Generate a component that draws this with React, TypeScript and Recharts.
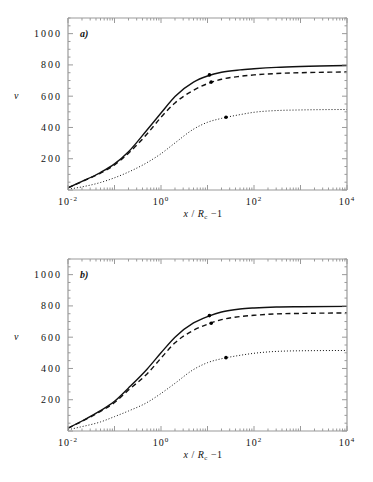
import React from 'react';
import { ComposedChart, Line, Scatter, XAxis, YAxis, Customized } from 'recharts';

const X_VALUES = [0.01, 0.02, 0.05, 0.1, 0.2, 0.5, 1, 2, 5, 10, 20, 50, 100, 300, 1000, 10000];

const A_SOLID = [14, 55, 112, 167, 245, 384, 492, 598, 690, 729, 753, 768, 775, 784, 790, 796];
const A_DASHED = [14, 54, 108, 160, 235, 358, 465, 557, 638, 680, 708, 727, 736, 745, 750, 755];
const A_DOTTED = [5, 20, 48, 78, 115, 175, 232, 301, 389, 433, 458, 482, 497, 508, 512, 515];

const B_SOLID = [18, 64, 130, 190, 275, 395, 500, 600, 691, 732, 761, 780, 787, 793, 795, 797];
const B_DASHED = [18, 62, 126, 182, 262, 365, 466, 564, 644, 683, 712, 732, 740, 749, 752, 755];
const B_DOTTED = [8, 28, 58, 92, 128, 182, 240, 305, 393, 437, 462, 484, 497, 509, 513, 515];

const A_MARKERS = [
  { x: 11, y: 736 },
  { x: 12, y: 690 },
  { x: 25, y: 465 },
];
const B_MARKERS = [
  { x: 11, y: 738 },
  { x: 12, y: 689 },
  { x: 25, y: 469 },
];

const X_TICKS: number[] = [];
[-2, -1, 0, 1, 2, 3].forEach((e) => {
  for (let m = 1; m <= 9; m++) X_TICKS.push(m * Math.pow(10, e));
});
X_TICKS.push(10000);
const X_LABELED: Record<string, string> = { '0.01': '-2', '1': '0', '100': '2', '10000': '4' };

const Y_TICKS: number[] = [];
for (let v = 0; v <= 1100; v += 50) Y_TICKS.push(v);
const Y_LABELS = [200, 400, 600, 800, 1000];

const FRAME = '#9a9a9a';
const FONT = '"Liberation Serif", serif';
const INK = '#111';

const isDecade = (v: number) => Math.abs(Math.log10(v) - Math.round(Math.log10(v))) < 1e-9;

const BottomTick = (props: any) => {
  const { x, y, payload } = props;
  const v = payload.value;
  const len = isDecade(v) ? 5 : 2.5;
  const key = String(v);
  const lab = X_LABELED[key];
  return (
    <g>
      <line x1={x} y1={y} x2={x} y2={y - len} stroke={FRAME} strokeWidth={1} />
      {lab !== undefined && (
        <text x={x} y={y + 15} textAnchor="middle" fontFamily={FONT} fontSize={10} fill="#111" letterSpacing={1}>
          10
          <tspan dy={-4} fontSize={7}>{lab}</tspan>
        </text>
      )}
    </g>
  );
};

const TopTick = (props: any) => {
  const { x, y, payload } = props;
  const len = isDecade(payload.value) ? 5 : 2.5;
  return <line x1={x} y1={y} x2={x} y2={y + len} stroke={FRAME} strokeWidth={1} />;
};

const LeftTick = (props: any) => {
  const { x, y, payload } = props;
  const v = payload.value;
  const major = v % 200 === 0;
  const len = major ? 5 : 2.5;
  return (
    <g>
      <line x1={x} y1={y} x2={x + len} y2={y} stroke={FRAME} strokeWidth={1} />
      {Y_LABELS.includes(v) && (
        <text x={x - 6} y={y + 3.5} textAnchor="end" fontFamily={FONT} fontSize={10} fill="#111" letterSpacing={2}>
          {String(v)}
        </text>
      )}
    </g>
  );
};

const RightTick = (props: any) => {
  const { x, y, payload } = props;
  const len = payload.value % 200 === 0 ? 5 : 2.5;
  return <line x1={x} y1={y} x2={x - len} y2={y} stroke={FRAME} strokeWidth={1} />;
};

const Dot = (props: any) => {
  const { cx, cy } = props;
  return <circle cx={cx} cy={cy} r={1.8} fill="#000" />;
};

function Panel({ label, solid, dashed, dotted, markers }: any) {
  const data = X_VALUES.map((x, i) => ({ x, s: solid[i], d: dashed[i], p: dotted[i] }));
  const Texts = () => (
    <g>
      <text x={80} y={37} fontFamily={FONT} fontSize={10} fontStyle="italic" fontWeight="bold" fill="#111">
        {label}
      </text>
      <text x={14} y={99} fontFamily={FONT} fontSize={10} fontStyle="italic" fill="#111">
        v
      </text>
      <text x={203} y={217} textAnchor="middle" fontFamily={FONT} fontSize={10} fill="#111" letterSpacing={0.5}>
        <tspan fontStyle="italic">x</tspan>
        <tspan> / </tspan>
        <tspan fontStyle="italic">R</tspan>
        <tspan dy={2} fontSize={7}>c</tspan>
        <tspan dy={-2}> −1</tspan>
      </text>
    </g>
  );
  return (
    <ComposedChart width={373} height={241} data={data} margin={{ top: 17, right: 25, bottom: 0, left: 0 }}>
      <XAxis
        xAxisId="b"
        dataKey="x"
        type="number"
        scale="log"
        domain={[0.01, 10000]}
        ticks={X_TICKS}
        interval={0}
        allowDataOverflow
        height={51}
        tickSize={0}
        tickMargin={0}
        tickLine={false}
        axisLine={{ stroke: FRAME, strokeWidth: 1.2 }}
        tick={<BottomTick />}
      />
      <XAxis
        xAxisId="t"
        orientation="top"
        dataKey="x"
        type="number"
        scale="log"
        domain={[0.01, 10000]}
        ticks={X_TICKS}
        interval={0}
        allowDataOverflow
        height={1}
        tickSize={0}
        tickMargin={0}
        tickLine={false}
        axisLine={{ stroke: FRAME, strokeWidth: 1.2 }}
        tick={<TopTick />}
      />
      <YAxis
        yAxisId="l"
        type="number"
        domain={[0, 1100]}
        ticks={Y_TICKS}
        interval={0}
        allowDataOverflow
        width={68}
        tickSize={0}
        tickMargin={0}
        tickLine={false}
        axisLine={{ stroke: FRAME, strokeWidth: 1.2 }}
        tick={<LeftTick />}
      />
      <YAxis
        yAxisId="r"
        orientation="right"
        type="number"
        domain={[0, 1100]}
        ticks={Y_TICKS}
        interval={0}
        allowDataOverflow
        width={1}
        tickSize={0}
        tickMargin={0}
        tickLine={false}
        axisLine={{ stroke: FRAME, strokeWidth: 1.2 }}
        tick={<RightTick />}
      />
      <Line xAxisId="b" yAxisId="l" type="monotone" dataKey="p" stroke={INK} strokeWidth={1} strokeDasharray="1 2" dot={false} isAnimationActive={false} />
      <Line xAxisId="b" yAxisId="l" type="monotone" dataKey="d" stroke={INK} strokeWidth={1.4} strokeDasharray="5 3.5" dot={false} isAnimationActive={false} />
      <Line xAxisId="b" yAxisId="l" type="monotone" dataKey="s" stroke={INK} strokeWidth={1.4} dot={false} isAnimationActive={false} />
      <Scatter xAxisId="b" yAxisId="l" data={markers} dataKey="y" shape={<Dot />} isAnimationActive={false} />
      <Customized component={Texts} />
    </ComposedChart>
  );
}

export default function App() {
  return (
    <div style={{ position: 'absolute', left: 0, top: 0, width: 373, height: 482, background: '#fff' }}>
      <Panel label="a)" solid={A_SOLID} dashed={A_DASHED} dotted={A_DOTTED} markers={A_MARKERS} />
      <Panel label="b)" solid={B_SOLID} dashed={B_DASHED} dotted={B_DOTTED} markers={B_MARKERS} />
    </div>
  );
}
